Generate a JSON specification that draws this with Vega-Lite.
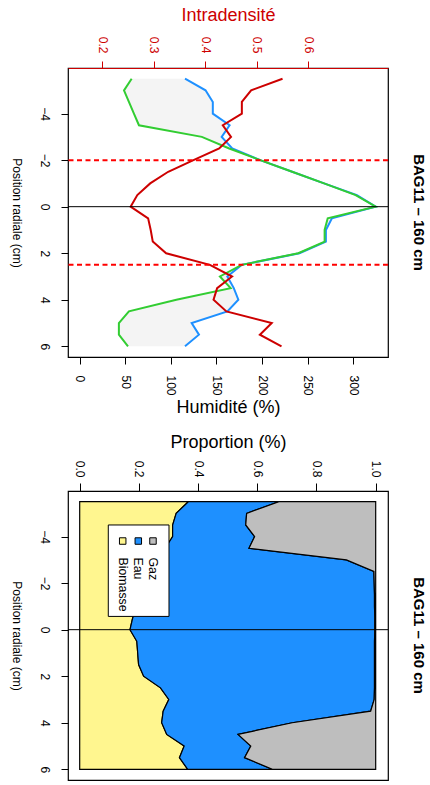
{
  "$schema": "https://vega.github.io/schema/vega-lite/v6.json",
  "padding": {"left": 9, "top": 5, "right": 0, "bottom": 0},
  "datasets": {
    "top": [
      {"pos": -5.5, "intra": 0.550, "humA": 115.5, "humB": 57},
      {"pos": -5.0, "intra": 0.489, "humA": 138, "humB": 48.6},
      {"pos": -4.5, "intra": 0.471, "humA": 146, "humB": 54},
      {"pos": -4.0, "intra": 0.471, "humA": 146, "humB": 59.5},
      {"pos": -3.5, "intra": 0.434, "humA": 164.4, "humB": 65},
      {"pos": -3.0, "intra": 0.450, "humA": 155.7, "humB": 134},
      {"pos": -2.5, "intra": 0.427, "humA": 167.3, "humB": 164},
      {"pos": -2.0, "intra": 0.377, "humA": 198, "humB": 198},
      {"pos": -1.5, "intra": 0.328, "humA": 233, "humB": 233},
      {"pos": -1.0, "intra": 0.293, "humA": 268, "humB": 268},
      {"pos": -0.5, "intra": 0.268, "humA": 304, "humB": 302.6},
      {"pos": 0.0, "intra": 0.255, "humA": 324.6, "humB": 324.6},
      {"pos": 0.5, "intra": 0.289, "humA": 276.6, "humB": 272},
      {"pos": 1.0, "intra": 0.294, "humA": 270, "humB": 268.6},
      {"pos": 1.5, "intra": 0.298, "humA": 270, "humB": 268.6},
      {"pos": 2.0, "intra": 0.324, "humA": 241, "humB": 239.7},
      {"pos": 2.5, "intra": 0.409, "humA": 177.6, "humB": 177.6},
      {"pos": 3.0, "intra": 0.452, "humA": 161.9, "humB": 153.8},
      {"pos": 3.5, "intra": 0.423, "humA": 169, "humB": 165.5},
      {"pos": 4.0, "intra": 0.416, "humA": 174, "humB": 106},
      {"pos": 4.5, "intra": 0.441, "humA": 162, "humB": 54},
      {"pos": 5.0, "intra": 0.529, "humA": 122.8, "humB": 43},
      {"pos": 5.5, "intra": 0.506, "humA": 130.8, "humB": 43},
      {"pos": 6.0, "intra": 0.548, "humA": 115.5, "humB": 53}
    ],
    "bot": [
      {"pos": -5.5, "Biomasse": 0.367, "Eau": 0.306, "Gaz": 0.327},
      {"pos": -5.0, "Biomasse": 0.326, "Eau": 0.238, "Gaz": 0.436},
      {"pos": -4.5, "Biomasse": 0.314, "Eau": 0.247, "Gaz": 0.439},
      {"pos": -4.0, "Biomasse": 0.314, "Eau": 0.277, "Gaz": 0.409},
      {"pos": -3.5, "Biomasse": 0.289, "Eau": 0.283, "Gaz": 0.428},
      {"pos": -3.0, "Biomasse": 0.300, "Eau": 0.601, "Gaz": 0.099},
      {"pos": -2.5, "Biomasse": 0.285, "Eau": 0.709, "Gaz": 0.006},
      {"pos": -2.0, "Biomasse": 0.251, "Eau": 0.744, "Gaz": 0.005},
      {"pos": -1.5, "Biomasse": 0.219, "Eau": 0.777, "Gaz": 0.004},
      {"pos": -1.0, "Biomasse": 0.195, "Eau": 0.801, "Gaz": 0.004},
      {"pos": -0.5, "Biomasse": 0.179, "Eau": 0.818, "Gaz": 0.003},
      {"pos": 0.0, "Biomasse": 0.170, "Eau": 0.827, "Gaz": 0.003},
      {"pos": 0.5, "Biomasse": 0.193, "Eau": 0.803, "Gaz": 0.004},
      {"pos": 1.0, "Biomasse": 0.196, "Eau": 0.800, "Gaz": 0.004},
      {"pos": 1.5, "Biomasse": 0.199, "Eau": 0.797, "Gaz": 0.004},
      {"pos": 2.0, "Biomasse": 0.216, "Eau": 0.780, "Gaz": 0.004},
      {"pos": 2.5, "Biomasse": 0.273, "Eau": 0.723, "Gaz": 0.004},
      {"pos": 3.0, "Biomasse": 0.301, "Eau": 0.694, "Gaz": 0.005},
      {"pos": 3.5, "Biomasse": 0.282, "Eau": 0.701, "Gaz": 0.017},
      {"pos": 4.0, "Biomasse": 0.277, "Eau": 0.441, "Gaz": 0.282},
      {"pos": 4.5, "Biomasse": 0.294, "Eau": 0.241, "Gaz": 0.465},
      {"pos": 5.0, "Biomasse": 0.353, "Eau": 0.225, "Gaz": 0.422},
      {"pos": 5.5, "Biomasse": 0.337, "Eau": 0.220, "Gaz": 0.443},
      {"pos": 6.0, "Biomasse": 0.365, "Eau": 0.286, "Gaz": 0.349}
    ],
    "limites": [{"limite": -2.0}, {"limite": 2.5}]
  },
  "spacing": 15,
  "vconcat": [
    {
      "width": 320,
      "height": 289,
      "title": {"text": "BAG11 – 160 cm", "orient": "right", "anchor": "middle", "fontSize": 15, "fontWeight": "bold", "offset": 22},
      "data": {"name": "top"},
      "layer": [
        {
          "layer": [
            {
              "mark": {"type": "area", "orient": "horizontal", "color": "#F4F4F4"},
              "encoding": {
                "y": {
                  "field": "pos", "type": "quantitative",
                  "scale": {"domain": [-5.96, 6.46], "reverse": true, "nice": false, "zero": false},
                  "axis": {"values": [-4, -2, 0, 2, 4, 6], "labelAngle": 90, "labelPadding": 12, "title": "Position radiale (cm)", "titleAngle": 90, "titleBaseline": "top", "titleFontSize": 12, "titlePadding": 17}
                },
                "x": {
                  "field": "humA", "type": "quantitative",
                  "scale": {"domain": [-12.8, 338.1], "nice": false, "zero": false},
                  "axis": {"orient": "bottom", "values": [0, 50, 100, 150, 200, 250, 300], "labelAngle": 90, "labelPadding": 11, "title": "Humidité (%)", "titleFontSize": 18, "titlePadding": 3}
                },
                "x2": {"field": "humB"}
              }
            },
            {
              "mark": {"type": "line", "color": "#1E90FF", "strokeWidth": 2},
              "encoding": {"x": {"field": "humA", "type": "quantitative"}, "y": {"field": "pos", "type": "quantitative"}, "order": {"field": "pos", "type": "quantitative"}}
            },
            {
              "mark": {"type": "line", "color": "#32CD32", "strokeWidth": 2},
              "encoding": {"x": {"field": "humB", "type": "quantitative"}, "y": {"field": "pos", "type": "quantitative"}, "order": {"field": "pos", "type": "quantitative"}}
            }
          ]
        },
        {
          "mark": {"type": "line", "color": "#CD0000", "strokeWidth": 2},
          "encoding": {
            "x": {
              "field": "intra", "type": "quantitative",
              "scale": {"domain": [0.1334, 0.7548], "nice": false, "zero": false},
              "axis": {"orient": "top", "values": [0.2, 0.3, 0.4, 0.5, 0.6], "format": ".1f", "labelAngle": 90, "labelPadding": 8, "title": "Intradensité", "titleFontSize": 18, "titleColor": "#CD0000", "labelColor": "#CD0000", "tickColor": "#CD0000", "domain": true, "domainColor": "#CD0000", "titlePadding": 12}
            },
            "y": {"field": "pos", "type": "quantitative"},
            "order": {"field": "pos", "type": "quantitative"}
          }
        },
        {
          "data": {"values": [{"centre": 0}]},
          "mark": {"type": "rule", "color": "black", "strokeWidth": 1},
          "encoding": {"y": {"field": "centre", "type": "quantitative"}}
        },
        {
          "data": {"name": "limites"},
          "mark": {"type": "rule", "color": "#FF0000", "strokeWidth": 2, "strokeDash": [5, 3.5]},
          "encoding": {"y": {"field": "limite", "type": "quantitative"}}
        }
      ],
      "resolve": {"scale": {"x": "independent"}}
    },
    {
      "width": 320,
      "height": 289,
      "title": {"text": "BAG11 – 160 cm", "orient": "right", "anchor": "middle", "fontSize": 15, "fontWeight": "bold", "offset": 22},
      "layer": [
        {
          "data": {"name": "bot"},
          "transform": [{"fold": ["Biomasse", "Eau", "Gaz"], "as": ["comp", "val"]}],
          "mark": {"type": "area", "orient": "horizontal", "stroke": "black", "strokeWidth": 1.2},
          "encoding": {
            "y": {
              "field": "pos", "type": "quantitative",
              "scale": {"domain": [-5.96, 6.46], "reverse": true, "nice": false, "zero": false},
              "axis": {"values": [-4, -2, 0, 2, 4, 6], "labelAngle": 90, "labelPadding": 12, "title": "Position radiale (cm)", "titleAngle": 90, "titleBaseline": "top", "titleFontSize": 12, "titlePadding": 17}
            },
            "x": {
              "field": "val", "type": "quantitative", "stack": "zero",
              "scale": {"domain": [-0.0395, 1.0416], "nice": false, "zero": false},
              "axis": {"orient": "top", "values": [0, 0.2, 0.4, 0.6, 0.8, 1.0], "format": ".1f", "labelAngle": 90, "labelPadding": 6, "tickSize": 8, "title": "Proportion (%)", "titleFontSize": 18, "titlePadding": 9}
            },
            "color": {"field": "comp", "type": "nominal", "scale": {"domain": ["Biomasse", "Eau", "Gaz"], "range": ["#FFF68F", "#1E90FF", "#BEBEBE"]}, "legend": null},
            "fillOpacity": {"value": 1},
            "order": {"field": "comp", "type": "nominal"}
          }
        },
        {
          "data": {"values": [{"centre": 0}]},
          "mark": {"type": "rule", "color": "black", "strokeWidth": 1},
          "encoding": {"y": {"field": "centre", "type": "quantitative"}}
        },
        {
          "data": {"values": [{"legende": "cadre"}]},
          "mark": {"type": "rect", "fill": "white", "stroke": "black", "strokeWidth": 1},
          "encoding": {"x": {"datum": 0.0966}, "x2": {"datum": 0.3017}, "y": {"datum": -4.5}, "y2": {"datum": -0.57}}
        },
        {
          "data": {"values": [{"legende": "Biomasse"}]},
          "mark": {"type": "point", "shape": "square", "filled": true, "size": 42, "fill": "#FFF68F", "stroke": "black", "strokeWidth": 1, "opacity": 1},
          "encoding": {"x": {"datum": 0.1453}, "y": {"datum": -3.81}}
        },
        {
          "data": {"values": [{"legende": "Eau"}]},
          "mark": {"type": "point", "shape": "square", "filled": true, "size": 42, "fill": "#1E90FF", "stroke": "black", "strokeWidth": 1, "opacity": 1},
          "encoding": {"x": {"datum": 0.198}, "y": {"datum": -3.81}}
        },
        {
          "data": {"values": [{"legende": "Gaz"}]},
          "mark": {"type": "point", "shape": "square", "filled": true, "size": 42, "fill": "#BEBEBE", "stroke": "black", "strokeWidth": 1, "opacity": 1},
          "encoding": {"x": {"datum": 0.2476}, "y": {"datum": -3.81}}
        },
        {
          "data": {"values": [{"legende": "Biomasse"}]},
          "mark": {"type": "text", "angle": 90, "align": "left", "baseline": "middle", "fontSize": 12.3},
          "encoding": {"text": {"field": "legende"}, "x": {"datum": 0.1453}, "y": {"datum": -3.1}}
        },
        {
          "data": {"values": [{"legende": "Eau"}]},
          "mark": {"type": "text", "angle": 90, "align": "left", "baseline": "middle", "fontSize": 12.3},
          "encoding": {"text": {"field": "legende"}, "x": {"datum": 0.198}, "y": {"datum": -3.1}}
        },
        {
          "data": {"values": [{"legende": "Gaz"}]},
          "mark": {"type": "text", "angle": 90, "align": "left", "baseline": "middle", "fontSize": 12.3},
          "encoding": {"text": {"field": "legende"}, "x": {"datum": 0.2476}, "y": {"datum": -3.1}}
        }
      ]
    }
  ],
  "config": {
    "font": "Liberation Sans",
    "view": {"stroke": "black", "strokeWidth": 1.2},
    "axis": {"labelFont": "Liberation Sans", "labelFontSize": 12, "labelColor": "black", "tickColor": "black", "tickSize": 7, "domain": false, "grid": false, "titleFont": "Liberation Sans", "titleFontWeight": "normal", "titleColor": "black", "labelPadding": 3},
    "title": {"font": "Liberation Sans", "color": "black"}
  }
}
